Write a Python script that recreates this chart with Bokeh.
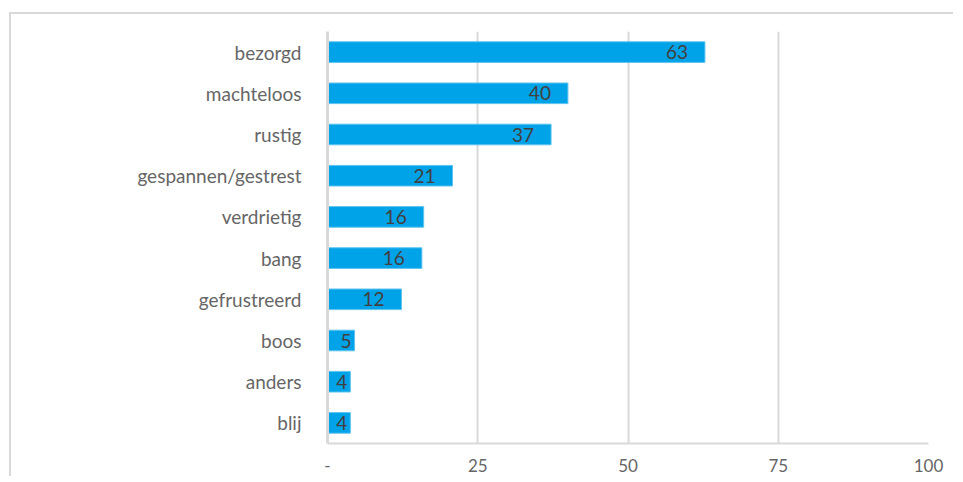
from bokeh.plotting import figure
from bokeh.models import ColumnDataSource, FixedTicker
from bokeh.embed import file_html
from bokeh.resources import INLINE
from bokeh.core.properties import value

categories = ["bezorgd", "machteloos", "rustig", "gespannen/gestrest", "verdrietig",
              "bang", "gefrustreerd", "boos", "anders", "blij"]
values = [62.8, 40.0, 37.2, 20.8, 16.0, 15.7, 12.3, 4.5, 3.8, 3.8]
labels = ["63", "40", "37", "21", "16", "16", "12", "5", "4", "4"]
tick_values = [0, 25, 50, 75, 100]
tick_labels = ["-", "25", "50", "75", "100"]

FONT = "Lato"
GRID = "#d9d9d9"

src = ColumnDataSource(dict(
    cat=categories,
    val=values,
    lab=labels,
    xoff=[-17 if len(l) > 1 else -3 for l in labels],
))

# figure placed at (9, 12) with a light border on its top and left side
p = figure(width=944, height=464, y_range=list(reversed(categories)), x_range=(0, 100),
           output_backend="svg", toolbar_location=None,
           min_border_left=316, min_border_right=27, min_border_top=17, min_border_bottom=35)
p.margin = (12, 0, 0, 9)
p.styles = {"border-top": "2px solid #d9d9d9", "border-left": "2px solid #d9d9d9"}
p.outline_line_color = None
p.background_fill_color = "white"
p.border_fill_color = "white"

p.hbar(y="cat", left=0, right="val", height=0.5, source=src,
       fill_color="#00a2e8", line_color="#5cc3f0", line_width=1)

p.text(x="val", y="cat", text="lab", x_offset="xoff", source=src,
       text_align="right", text_baseline="middle",
       text_font=value(FONT), text_font_size="19px", text_color="#404040")

p.xgrid.ticker = FixedTicker(ticks=tick_values)
p.xgrid.grid_line_color = GRID
p.xgrid.grid_line_width = 2
p.ygrid.grid_line_color = None

xa = p.xaxis[0]
xa.ticker = FixedTicker(ticks=tick_values)
xa.major_label_overrides = {v: t for v, t in zip(tick_values, tick_labels)}
xa.major_tick_line_color = None
xa.minor_tick_line_color = None
xa.axis_line_color = GRID
xa.axis_line_width = 2
xa.major_label_text_font = FONT
xa.major_label_text_font_size = "17px"
xa.major_label_text_color = "#666666"
xa.major_label_standoff = 9

ya = p.yaxis[0]
ya.major_tick_line_color = None
ya.minor_tick_line_color = None
ya.axis_line_color = GRID
ya.axis_line_width = 3
ya.major_label_text_font = FONT
ya.major_label_text_font_size = "19px"
ya.major_label_text_color = "#666666"
ya.major_label_standoff = 20

open("out.html", "w").write(file_html(p, INLINE))
